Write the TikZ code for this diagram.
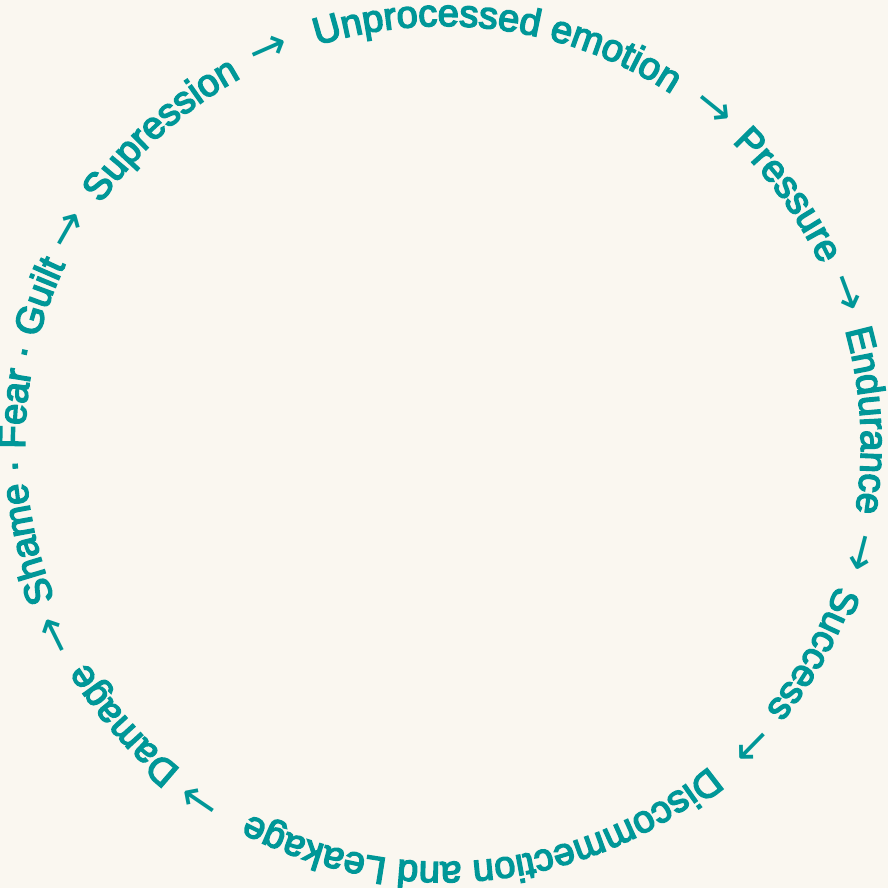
\documentclass[tikz,border=0pt]{standalone}
\usepackage{fontspec}
\newfontfamily\ringfont{Liberation Sans}[FakeBold=4]
\newfontfamily\arrowfont{DejaVu Sans}
\usepackage{tikz}
\usetikzlibrary{decorations.text}
\definecolor{ringteal}{RGB}{0,151,152}
\definecolor{paper}{RGB}{250,247,240}
\newcommand{\ringstyle}{\ringfont\fontsize{38}{40}\selectfont\color{ringteal}}
\newcommand{\arrowstyle}{\arrowfont\fontsize{46}{48}\selectfont\color{ringteal}}
\newcommand{\ringr}{418pt}
\tikzset{
  % text set on the circle, tops pointing outward
  ring text/.style={decorate, decoration={text along path, text align=center, text={|\ringstyle|#1}}},
  ring arrow/.style={decorate, decoration={text along path, text align=center, text={|\arrowstyle|#1}}},
}
% one item of the cycle, centred at angle #1
\newcommand{\ringitem}[2]{\path[ring text={#2}] ({#1+60}:\ringr) arc[start angle={#1+60}, delta angle=-120, radius=\ringr];}
\newcommand{\ringarrow}[1]{\path[ring arrow={→}] ({#1+20}:\ringr) arc[start angle={#1+20}, delta angle=-40, radius=\ringr];}

\begin{document}
\begin{tikzpicture}
            \fill[paper] (-443pt,-444pt) rectangle (445pt,444pt);
            \useasboundingbox (-443pt,-444pt) rectangle (445pt,444pt);

            \ringitem{82.2}{Unprocessed emotion}
            \ringarrow{51.1}
            \ringitem{35.8}{Pressure}
            \ringarrow{20.5}
            \ringitem{3.2}{Endurance}
            \ringarrow{-14.6}
            \ringitem{-29.6}{Success}
            \ringarrow{-44.4}
            \ringitem{-84}{Discommection and Leakage}
            \ringarrow{-124.2}
            \ringitem{-138.7}{Damage}
            \ringarrow{-153.7}
            \ringitem{178.2}{Shame · Fear · Guilt}
            \ringarrow{150.3}
            \ringitem{131.9}{Supression}
            \ringarrow{113.8}
        \end{tikzpicture}
\end{document}
